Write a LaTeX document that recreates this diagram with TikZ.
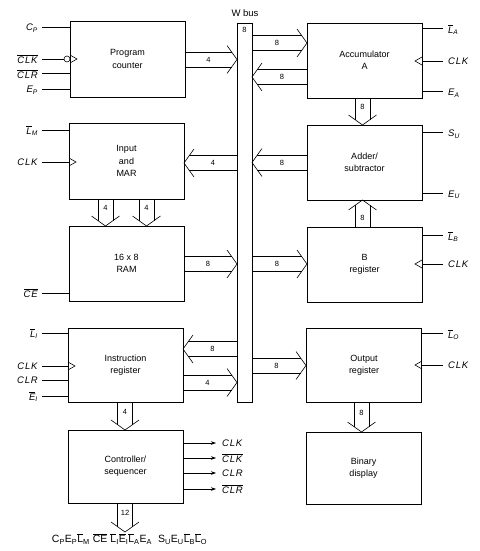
\documentclass[tikz,border=0pt]{standalone}
\usepackage{amsmath}
\usepackage{fontspec}
\setmainfont{Liberation Sans}
\usetikzlibrary{arrows.meta}
\tikzset{
  box/.style={draw, line width=0.9pt, minimum width=115pt, align=center, font=\fontsize{9}{12.3}\selectfont, inner sep=0pt},
  bl/.style={line width=0.6pt},
  sigl/.style={line width=0.6pt},
  lab/.style={font=\fontsize{7.5}{8}\selectfont, inner sep=0pt},
  sigtxt/.style={font=\fontsize{9.5}{10}\selectfont, inner sep=0pt},
}
\newcommand\rbus[4]{%
  \draw[bl] (#1,#3-7.5) -- ({#2-5},#3-7.5) (#1,#3+7.5) -- ({#2-5},#3+7.5);
  \draw[bl] ({#2-10},#3-14) -- (#2,#3) -- ({#2-10},#3+14);
  \node[lab] at ({(#1+#2-5)/2},#3) {#4};}
\newcommand\lbus[4]{%
  \draw[bl] (#1,#3-7.5) -- ({#2+5},#3-7.5) (#1,#3+7.5) -- ({#2+5},#3+7.5);
  \draw[bl] ({#2+10},#3-14) -- (#2,#3) -- ({#2+10},#3+14);
  \node[lab] at ({(#1+#2+5)/2},#3) {#4};}
\newcommand\dbus[4]{%
  \draw[bl] (#3-7.5,#1) -- (#3-7.5,{#2-5}) (#3+7.5,#1) -- (#3+7.5,{#2-5});
  \draw[bl] (#3-14,{#2-10}) -- (#3,#2) -- (#3+14,{#2-10});
  \node[lab] at (#3,{(#1+#2-5)/2-2}) {#4};}
\newcommand\ubus[4]{%
  \draw[bl] (#3-7.5,#1) -- (#3-7.5,{#2+5}) (#3+7.5,#1) -- (#3+7.5,{#2+5});
  \draw[bl] (#3-14,{#2+10}) -- (#3,#2) -- (#3+14,{#2+10});
  \node[lab] at (#3,{(#1+#2+5)/2+2}) {#4};}
\newcommand\sg[2]{$\textit{#1}_{\textit{#2}}$}
\newcommand\sgb[2]{$\overline{\textit{#1}}_{\textit{#2}}$}
\newcommand\clk{\textit{C\kern0.8pt L\kern0.8pt K}}
\newcommand\clr{\textit{C\kern0.8pt L\kern0.8pt R}}
\begin{document}
\begin{tikzpicture}[x=1pt,y=-1pt]
\useasboundingbox (0,0) rectangle (479,551);
% boxes
\node[box, minimum height=76pt] (pc) at (127.5,59) {Program\\counter};
\node[box, minimum height=76pt] (mar) at (126.5,161) {Input\\and\\MAR};
\node[box, minimum height=75pt] (ram) at (126.5,263.5) {16 x 8\\RAM};
\node[box, minimum height=74pt] (ir) at (125.5,365) {Instruction\\register};
\node[box, minimum height=73pt] (ctrl) at (125.5,466.5) {Controller/\\sequencer};
\node[box, minimum height=75pt] (acc) at (364.5,60.5) {Accumulator\\A};
\node[box, minimum height=75pt] (add) at (364.5,162.5) {Adder/\\subtractor};
\node[box, minimum height=75pt] (breg) at (364.5,264.5) {B\\register};
\node[box, minimum height=74pt] (out) at (364,365) {Output\\register};
\node[box, minimum height=72pt] (disp) at (363.5,468) {Binary\\display};
% bus
\node[draw, line width=0.9pt, minimum width=15pt, minimum height=379pt, inner sep=0pt] (bus) at (244.5,212.5) {};
\node[sigtxt] (wbus) at (245,13) {W bus};
\node[lab] (bw) at (244.5,30) {8};
% bus arrows
\rbus{185}{237}{59.5}{4}
\rbus{252}{307}{43}{8}
\lbus{307}{252}{77}{8}
\dbus{98}{125}{362.5}{8}
\lbus{307}{252}{162.5}{8}
\lbus{237}{184}{163}{4}
\dbus{199}{226}{105.5}{4}
\dbus{199}{226}{146.5}{4}
\rbus{184}{237}{264}{8}
\ubus{227}{200}{362.5}{8}
\rbus{252}{307}{264}{8}
\lbus{237}{183}{349}{8}
\rbus{183}{237}{382.5}{4}
\rbus{252}{306}{365.5}{8}
\dbus{402}{430}{125}{4}
\dbus{402}{432}{361.5}{8}
\dbus{503}{532}{125}{12}
% left control inputs
\coordinate (cp) at (42,27); \draw[sigl] (cp) -- (70,27); \node[sigtxt, anchor=east] at (38,28) {\sg{C}{P}};
\draw[sigl] (42,59) -- (64,59); \draw[sigl] (67,59) circle (3);
\draw[sigl] (70,55) -- (77,59) -- (70,63);
\node[sigtxt, anchor=east] at (38,59) {$\overline{\text{\clk}}$};
\draw[sigl] (42,73) -- (70,73); \node[sigtxt, anchor=east] at (38,74) {$\overline{\text{\clr}}$};
\draw[sigl] (42,89) -- (70,89); \node[sigtxt, anchor=east] at (38,90) {\sg{E}{P}};
\draw[sigl] (42,130) -- (69,130); \node[sigtxt, anchor=east] at (38,131) {\sgb{L}{M}};
\draw[sigl] (42,162) -- (69,162); \draw[sigl] (69,158) -- (76,162) -- (69,166);
\node[sigtxt, anchor=east] at (38,162) {\clk};
\draw[sigl] (42,293) -- (69,293); \node[sigtxt, anchor=east] at (38,293) {$\overline{\text{\textit{C\kern0.8pt E}}}$};
\draw[sigl] (42,333) -- (68,333); \node[sigtxt, anchor=east] at (38,334) {\sgb{L}{I}};
\draw[sigl] (42,366) -- (68,366); \draw[sigl] (68,362) -- (75,366) -- (68,370);
\node[sigtxt, anchor=east] at (38,366) {\clk};
\draw[sigl] (42,380) -- (68,380); \node[sigtxt, anchor=east] at (38,380) {\clr};
\draw[sigl] (42,396) -- (68,396); \node[sigtxt, anchor=east] at (38,397) {\sgb{E}{I}};
% right control inputs
\draw[sigl] (422,28) -- (443,28); \node[sigtxt, anchor=west] at (448,30) {\sgb{L}{A}};
\draw[sigl] (422,61) -- (443,61); \draw[sigl] (422,57) -- (415,61) -- (422,65);
\node[sigtxt, anchor=west] at (448,61) {\clk};
\draw[sigl] (422,91) -- (443,91); \node[sigtxt, anchor=west] at (448,93) {\sg{E}{A}};
\draw[sigl] (422,132) -- (443,132); \node[sigtxt, anchor=west] at (448,134) {\sg{S}{U}};
\draw[sigl] (422,193) -- (443,193); \node[sigtxt, anchor=west] at (448,195) {\sg{E}{U}};
\draw[sigl] (422,235) -- (443,235); \node[sigtxt, anchor=west] at (448,237) {\sgb{L}{B}};
\draw[sigl] (422,264) -- (443,264); \draw[sigl] (422,260) -- (415,264) -- (422,268);
\node[sigtxt, anchor=west] at (448,264) {\clk};
\draw[sigl] (422,333) -- (443,333); \node[sigtxt, anchor=west] at (448,335) {\sgb{L}{O}};
\draw[sigl] (422,365) -- (443,365); \draw[sigl] (422,361) -- (415,365) -- (422,369);
\node[sigtxt, anchor=west] at (448,365) {\clk};
% controller outputs
\foreach \yy/\tt in {443/\clk, 458/$\overline{\text{\clk}}$, 473/\clr, 489/$\overline{\text{\clr}}$}{
  \draw[sigl, -{Stealth[length=5pt,width=3.5pt]}] (183,\yy) -- (216,\yy);
  \node[sigtxt, anchor=west] at (222,\yy) {\tt};
}
% bottom signals
\node[font=\fontsize{10.5}{11}\selectfont, inner sep=0pt] (ctl) at (129.5,539)
 {$\text{C}_{\text{P}}\text{E}_{\text{P}}\overline{\text{L}}_{\text{M}}\;\overline{\text{CE}}\;\overline{\text{L}}_{\text{I}}\overline{\text{E}}_{\text{I}}\overline{\text{L}}_{\text{A}}\text{E}_{\text{A}}\;\;\text{S}_{\text{U}}\text{E}_{\text{U}}\overline{\text{L}}_{\text{B}}\overline{\text{L}}_{\text{O}}$};
\end{tikzpicture}
\end{document}
